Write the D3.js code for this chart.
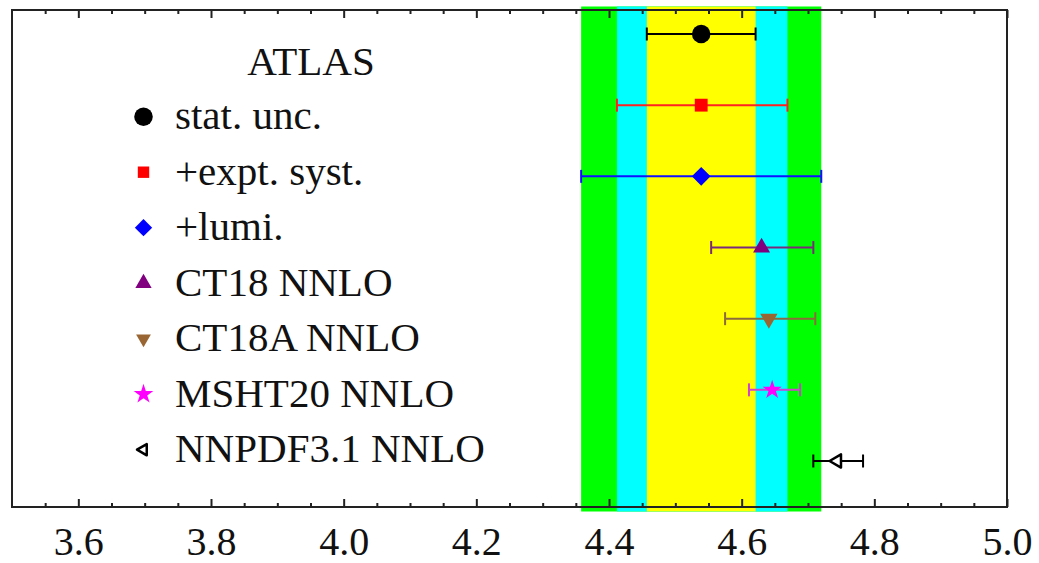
<!DOCTYPE html>
<html>
<head>
<meta charset="utf-8">
<script src="https://cdn.jsdelivr.net/npm/d3@7"></script>
<style>
  html, body { margin: 0; padding: 0; background: #fff; }
  svg { display: block; }
  svg text { font-family: "Liberation Serif", "Times New Roman", Times, Tinos, "Noto Serif", "DejaVu Serif", "Nimbus Roman", "FreeSerif", serif; }
</style>
</head>
<body>
<svg id="chart" width="1039" height="563"></svg>
<script>
// Measurements and PDF predictions (central value with lower / upper edge)
const labels  = ["stat. unc.", "+expt. syst.", "+lumi.", "CT18 NNLO", "CT18A NNLO", "MSHT20 NNLO", "NNPDF3.1 NNLO"];
const centers = [4.539, 4.539, 4.539, 4.630, 4.641, 4.646, 4.744];
const lows    = [4.457, 4.412, 4.358, 4.554, 4.575, 4.611, 4.708];
const highs   = [4.621, 4.669, 4.720, 4.708, 4.711, 4.688, 4.783];
const title   = "ATLAS";
const majorTicks = [3.6, 3.8, 4.0, 4.2, 4.4, 4.6, 4.8, 5.0];
const xDomain = [3.5, 5.0];

// Styling per row
const colors  = ["#000000", "#ff0000", "#0000ff", "#800080", "#996633", "#ff00ff", "#000000"];
const barColors = ["#000000", "#ff2020", "#1010ff", "#7a2a7a", "#8b6a3c", "#d040d0", "#000000"];
const bandColors = ["#ffff00", "#00ffff", "#00ff00"]; // stat, +syst, +lumi

const svg = d3.select("#chart");
const frame = { left: 12, right: 1007, top: 10, bottom: 507 };

const x = d3.scaleLinear().domain(xDomain).range([frame.left, frame.right]);
const y = d3.scalePoint().domain(d3.range(labels.length)).range([34, 461]);

// Uncertainty bands of the measurement, widest first
const bands = [2, 1, 0].map(i => ({ lo: lows[i], hi: highs[i], color: bandColors[i] }));
svg.append("g").selectAll("rect").data(bands).join("rect")
  .attr("x", d => x(d.lo))
  .attr("width", d => x(d.hi) - x(d.lo))
  .attr("y", frame.top - 3.5)
  .attr("height", frame.bottom - frame.top + 8)
  .attr("fill", d => d.color);

// Frame
svg.append("rect")
  .attr("x", frame.left).attr("y", frame.top)
  .attr("width", frame.right - frame.left)
  .attr("height", frame.bottom - frame.top)
  .attr("fill", "none").attr("stroke", "#222").attr("stroke-width", 2);

// Inward ticks on bottom and top edges
const minorTicks = d3.range(3.55, 5.0001, 0.05).filter(v => !majorTicks.some(m => Math.abs(m - v) < 1e-6));

function drawAxis(gen, ty, withLabels) {
  const gMinor = svg.append("g").attr("transform", `translate(0,${ty})`)
    .call(gen(x).tickValues(minorTicks).tickSizeInner(-4).tickSizeOuter(0).tickFormat(""));
  const gMajor = svg.append("g").attr("transform", `translate(0,${ty})`)
    .call(gen(x).tickValues(majorTicks).tickSizeInner(-8).tickSizeOuter(0)
      .tickPadding(19.5).tickFormat(withLabels ? d3.format(".1f") : ""));
  [gMinor, gMajor].forEach(g => {
    g.select(".domain").remove();
    g.selectAll(".tick line").attr("stroke", "#222").attr("stroke-width", 2);
    g.attr("font-family", null).attr("font-size", 40);
  });
  gMajor.selectAll(".tick text").attr("font-size", 40).attr("fill", "#111");
}
drawAxis(d3.axisBottom, frame.bottom, true);
drawAxis(d3.axisTop, frame.top, false);

// Marker shapes
const shapes = [
  { type: d3.symbolCircle,   size: 270, rot: 0 },
  { type: d3.symbolSquare,   size: 165, rot: 0 },
  { type: d3.symbolSquare,   size: 175, rot: 45 },
  { type: d3.symbolTriangle, size: 125, rot: 0 },
  { type: d3.symbolTriangle, size: 130, rot: 180 },
  { type: d3.symbolStar,     size: 115, rot: 0 },
  { type: d3.symbolTriangle, size: 75,  rot: -90 }
];
const legendShapes = [
  { size: 270 }, { size: 130 }, { size: 150 }, { size: 115 }, { size: 95 }, { size: 120 }, { size: 55 }
];

const rows = labels.map((l, i) => ({ i, label: l, c: centers[i], lo: lows[i], hi: highs[i] }));

// Error bars
const eb = svg.append("g").selectAll("g").data(rows).join("g")
  .attr("stroke", d => barColors[d.i]).attr("stroke-width", 2).attr("fill", "none");
eb.append("line")
  .attr("x1", d => x(d.lo)).attr("x2", d => x(d.hi))
  .attr("y1", d => y(d.i)).attr("y2", d => y(d.i));
eb.append("line")
  .attr("x1", d => x(d.lo)).attr("x2", d => x(d.lo))
  .attr("y1", d => y(d.i) - 6.5).attr("y2", d => y(d.i) + 6.5);
eb.append("line")
  .attr("x1", d => x(d.hi)).attr("x2", d => x(d.hi))
  .attr("y1", d => y(d.i) - 6.5).attr("y2", d => y(d.i) + 6.5);

function styleMarker(sel, sizes) {
  sel.attr("d", d => d3.symbol().type(shapes[d.i].type).size(sizes[d.i].size)())
    .attr("fill", d => d.i === 6 ? "#fff" : colors[d.i])
    .attr("stroke", d => d.i === 6 ? "#000" : "none")
    .attr("stroke-width", d => d.i === 6 ? 2.5 : 0)
    .attr("stroke-linejoin", "round");
}

// Central markers
svg.append("g").selectAll("path").data(rows).join("path")
  .attr("transform", d => `translate(${x(d.c)},${y(d.i)}) rotate(${shapes[d.i].rot})`)
  .call(styleMarker, shapes);

// Legend
const legendY = d3.scalePoint().domain(d3.range(labels.length)).range([116.7, 449.7]);
const legend = svg.append("g");
legend.append("text")
  .attr("x", 311).attr("y", 75)
  .attr("text-anchor", "middle")
  .attr("font-size", 41).attr("fill", "#111")
  .text(title);
const items = legend.selectAll("g.item").data(rows).join("g").attr("class", "item");
items.append("path")
  .attr("transform", d => `translate(143.5,${legendY(d.i)}) rotate(${shapes[d.i].rot})`)
  .call(styleMarker, legendShapes);
items.append("text")
  .attr("x", 175)
  .attr("y", d => legendY(d.i) + 12.5)
  .attr("font-size", 41).attr("fill", "#111")
  .text(d => d.label);
</script>
</body>
</html>
